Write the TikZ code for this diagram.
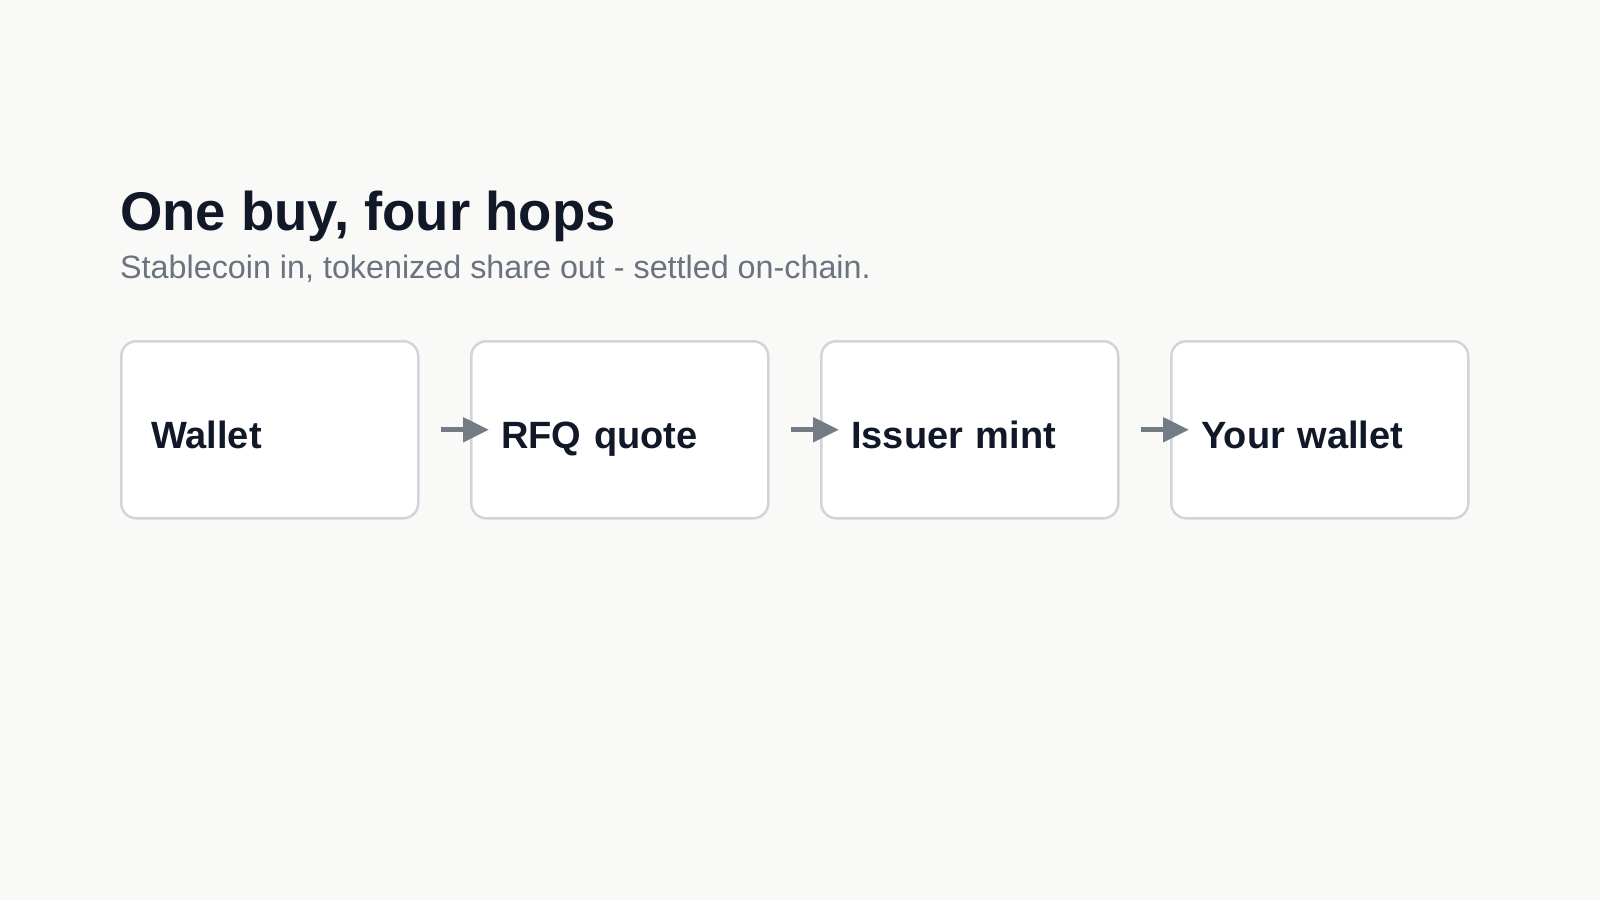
\documentclass[tikz,border=0pt]{standalone}
\usepackage{fontspec}
\setmainfont{Liberation Sans}
\usetikzlibrary{arrows.meta}
\definecolor{bgc}{HTML}{F9F9F7}
\definecolor{titlec}{HTML}{111827}
\definecolor{subc}{HTML}{6B7280}
\definecolor{borderc}{HTML}{D1D5DB}
\definecolor{arrowc}{HTML}{737B85}
\tikzset{
  hopbox/.style={draw=borderc, line width=2.5pt, fill=white, rounded corners=15pt,
    minimum width=297pt, minimum height=177pt, text width=237pt, inner xsep=29pt,
    align=left, text height=37.5pt, text depth=0pt,
    font=\fontsize{38}{42}\selectfont\bfseries, text=titlec, anchor=north west},
  hoparrow/.style={draw=arrowc, line width=5pt,
    -{Triangle[length=26pt,width=24pt]}},
  titletext/.style={anchor=base west, inner sep=0pt, text=titlec,
    font=\fontsize{54.5}{60}\selectfont\bfseries},
  subtext/.style={anchor=base west, inner sep=0pt, text=subc,
    font=\fontsize{32.3}{36}\selectfont}
}
\begin{document}
\begin{tikzpicture}[x=1pt,y=-1pt]
\fill[bgc] (0,0) rectangle (1600,900);
\useasboundingbox (0,0) rectangle (1600,900);
\node[titletext] (title) at (120,230.7) {One buy, four hops};
\node[subtext] (sub) at (120,278.3) {Stablecoin in, tokenized share out - settled on-chain.};
\node[hopbox] (b1) at (120,340) {Wallet};
\node[hopbox] (b2) at (470,340) {RFQ quote};
\node[hopbox] (b3) at (820,340) {Issuer mint};
\node[hopbox] (b4) at (1170,340) {Your wallet};
\draw[hoparrow] ([xshift=21pt]b1.east) -- ([xshift=19pt]b2.west);
\draw[hoparrow] ([xshift=21pt]b2.east) -- ([xshift=19pt]b3.west);
\draw[hoparrow] ([xshift=21pt]b3.east) -- ([xshift=19pt]b4.west);
\end{tikzpicture}
\end{document}
